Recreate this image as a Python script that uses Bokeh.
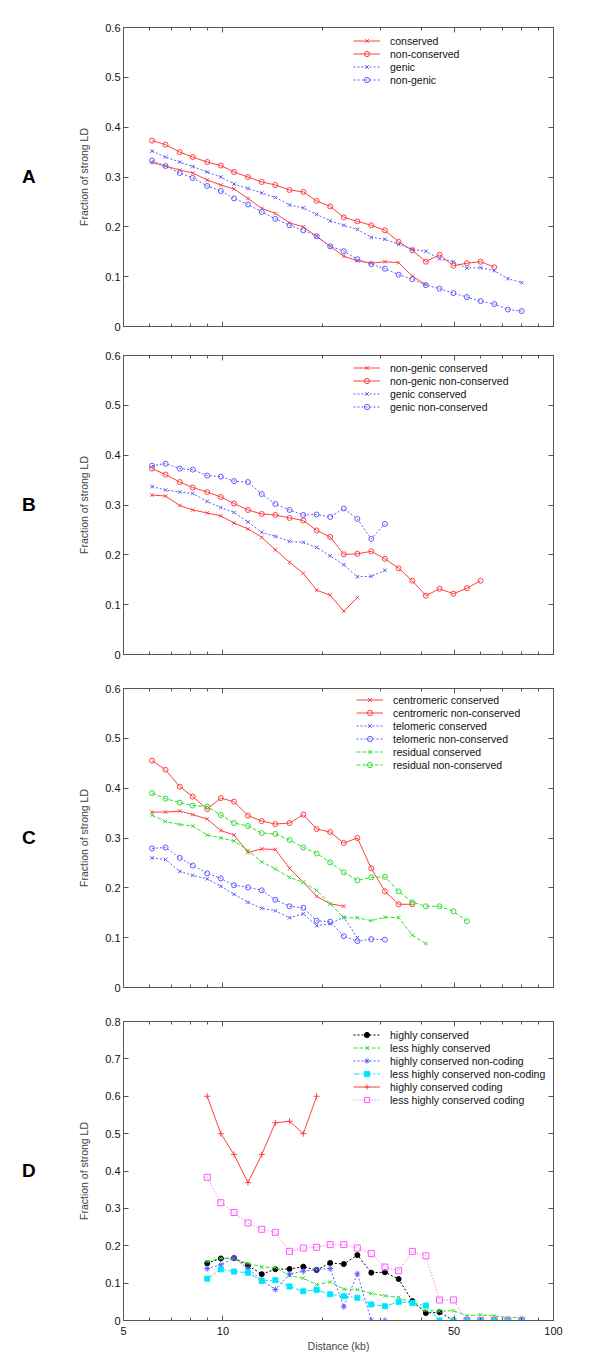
from bokeh.plotting import figure
from bokeh.layouts import column, row
from bokeh.models import (LinearAxis, LogAxis, FixedTicker, Legend, LegendItem, Range1d, Div)
from bokeh.embed import file_html
from bokeh.resources import INLINE

# distance bins (kb)
DIST = [6.1, 6.7, 7.4, 8.1, 8.96, 9.85, 10.8, 11.9, 13.1, 14.4, 15.9, 17.5, 19.2, 21.1,
        23.2, 25.5, 28.1, 30.9, 34.0, 37.4, 41.1, 45.2, 49.8, 54.7, 60.2, 66.2, 72.8, 80.1]
DIST_D = DIST[4:]

# Panel A
a_conserved = [0.329, 0.322, 0.314, 0.308, 0.294, 0.284, 0.276, 0.257, 0.237, 0.227, 0.208,
               0.200, 0.181, 0.161, 0.141, 0.132, 0.127, 0.130, 0.128, 0.101, 0.084]
a_nonconserved = [0.373, 0.365, 0.350, 0.340, 0.330, 0.323, 0.310, 0.300, 0.290, 0.284, 0.274,
                  0.270, 0.252, 0.241, 0.219, 0.211, 0.203, 0.193, 0.170, 0.153, 0.130, 0.144,
                  0.122, 0.127, 0.130, 0.119]
a_genic = [0.352, 0.340, 0.330, 0.321, 0.310, 0.300, 0.286, 0.277, 0.268, 0.259, 0.244, 0.238,
           0.225, 0.212, 0.203, 0.195, 0.179, 0.175, 0.165, 0.155, 0.151, 0.136, 0.130, 0.117,
           0.118, 0.112, 0.096, 0.088]
a_nongenic = [0.333, 0.322, 0.308, 0.298, 0.282, 0.272, 0.257, 0.245, 0.230, 0.216, 0.203, 0.193,
              0.181, 0.161, 0.151, 0.135, 0.125, 0.116, 0.104, 0.095, 0.083, 0.076, 0.067, 0.059,
              0.051, 0.045, 0.034, 0.031]

# Panel B
b_ng_cons = [0.320, 0.318, 0.299, 0.290, 0.284, 0.278, 0.264, 0.252, 0.235, 0.210, 0.185, 0.163,
             0.129, 0.119, 0.087, 0.114]
b_ng_noncons = [0.373, 0.361, 0.346, 0.335, 0.326, 0.316, 0.303, 0.290, 0.282, 0.280, 0.274, 0.269,
                0.249, 0.236, 0.201, 0.202, 0.207, 0.192, 0.173, 0.148, 0.118, 0.132, 0.122,
                0.133, 0.148]
b_g_cons = [0.337, 0.330, 0.326, 0.323, 0.307, 0.295, 0.285, 0.266, 0.245, 0.237, 0.227, 0.225,
            0.215, 0.198, 0.180, 0.156, 0.157, 0.169]
b_g_noncons = [0.379, 0.383, 0.373, 0.371, 0.359, 0.357, 0.348, 0.346, 0.322, 0.302, 0.290, 0.280,
               0.281, 0.276, 0.293, 0.272, 0.232, 0.262]

# Panel C
c_cen_cons = [0.352, 0.352, 0.354, 0.347, 0.338, 0.315, 0.306, 0.271, 0.278, 0.277, 0.239, 0.211,
              0.183, 0.168, 0.163]
c_cen_noncons = [0.455, 0.437, 0.403, 0.383, 0.358, 0.380, 0.373, 0.345, 0.334, 0.328, 0.330,
                 0.347, 0.318, 0.312, 0.290, 0.300, 0.239, 0.193, 0.167, 0.167]
c_tel_cons = [0.260, 0.257, 0.233, 0.225, 0.218, 0.203, 0.187, 0.171, 0.159, 0.154, 0.140, 0.148,
              0.124, 0.128, 0.141, 0.100]
c_tel_noncons = [0.279, 0.281, 0.260, 0.245, 0.229, 0.219, 0.205, 0.201, 0.195, 0.176, 0.163,
                 0.160, 0.134, 0.132, 0.103, 0.093, 0.097, 0.096]
c_res_cons = [0.346, 0.333, 0.327, 0.324, 0.306, 0.300, 0.294, 0.275, 0.252, 0.238, 0.221, 0.211,
              0.195, 0.168, 0.140, 0.140, 0.134, 0.141, 0.140, 0.105, 0.088]
c_res_noncons = [0.390, 0.379, 0.371, 0.365, 0.363, 0.346, 0.330, 0.324, 0.310, 0.308, 0.296,
                 0.281, 0.269, 0.251, 0.231, 0.215, 0.221, 0.222, 0.193, 0.171, 0.163, 0.163,
                 0.153, 0.133]

# Panel D
d_hc = [0.153, 0.166, 0.167, 0.147, 0.124, 0.137, 0.138, 0.144, 0.135, 0.154, 0.151, 0.175,
        0.128, 0.129, 0.111, 0.052, 0.020, 0.022, 0.0, 0.0, 0.0, 0.0, 0.0, 0.0]
d_lhc = [0.158, 0.166, 0.166, 0.153, 0.143, 0.142, 0.120, 0.113, 0.096, 0.103, 0.084, 0.083,
         0.072, 0.066, 0.062, 0.045, 0.027, 0.025, 0.026, 0.013, 0.015, 0.012, 0.008, 0.008]
d_hc_nc = [0.139, 0.149, 0.167, 0.139, 0.108, 0.083, 0.124, 0.132, 0.136, 0.139, 0.037, 0.125,
           0.0, 0.0]
d_lhc_nc = [0.112, 0.137, 0.131, 0.128, 0.106, 0.108, 0.091, 0.078, 0.082, 0.070, 0.065, 0.061,
            0.043, 0.038, 0.050, 0.047, 0.040, 0.0, 0.0, 0.0, 0.0, 0.0, 0.0, 0.0]
d_hc_c = [0.600, 0.500, 0.444, 0.369, 0.444, 0.529, 0.533, 0.500, 0.600]
d_lhc_c = [0.383, 0.315, 0.289, 0.261, 0.244, 0.236, 0.185, 0.194, 0.196, 0.203, 0.203, 0.194,
           0.179, 0.143, 0.133, 0.185, 0.173, 0.055, 0.055, 0.0, 0.0, 0.0, 0.0, 0.0]

Y_TICKS_06 = [0, 0.1, 0.2, 0.3, 0.4, 0.5, 0.6]
Y_LABELS_06 = ["0", "0.1", "0.2", "0.3", "0.4", "0.5", "0.6"]
Y_TICKS_08 = [0, 0.1, 0.2, 0.3, 0.4, 0.5, 0.6, 0.7, 0.8]
Y_LABELS_08 = ["0", "0.1", "0.2", "0.3", "0.4", "0.5", "0.6", "0.7", "0.8"]
X_TICKS = [5, 10, 50, 100]
X_LABELS = ["5", "10", "50", "100"]
X_MINOR = [6, 7, 8, 9, 20, 30, 40, 60, 70, 80, 90]
PANEL_LETTERS = ["A", "B", "C", "D"]

FONT = "Liberation Sans"
FS = "10.5px"
RED = "#ff4040"
BLUE = "#5c5cff"
GREEN = "#33dd33"
CYAN = "#00e5ff"
MAG = "#ff55ff"
BLACK = "#000000"
AXC = "#555555"
DIV_W = 60


def style_axis(ax, labels=True):
    ax.axis_line_color = AXC
    ax.major_tick_line_color = AXC
    ax.minor_tick_line_color = AXC
    ax.major_tick_in = 5
    ax.major_tick_out = 0
    ax.minor_tick_in = 3
    ax.minor_tick_out = 0
    ax.major_label_text_font = FONT
    if labels:
        ax.major_label_text_font_size = "11px"
        ax.major_label_text_color = "#111111"
        ax.major_label_standoff = 3
    else:
        ax.major_label_text_font_size = "0px"
        ax.major_label_text_color = None
        ax.major_label_standoff = 0


def make_panel(letter, ymax, yticks, ylabels, height, top, bottom, xlabels=False):
    p = figure(width=584 + 8 - DIV_W, height=height, x_axis_type="log", output_backend="svg",
               toolbar_location=None, x_range=Range1d(5, 100), y_range=Range1d(0, ymax),
               min_border_left=123 - DIV_W, min_border_right=39, min_border_top=top,
               min_border_bottom=bottom, margin=0)
    p.grid.visible = False
    p.outline_line_color = AXC
    p.yaxis.ticker = FixedTicker(ticks=yticks)
    p.yaxis.major_label_overrides = {t: l for t, l in zip(yticks, ylabels)}
    p.yaxis.minor_tick_line_color = None
    style_axis(p.yaxis[0])
    p.yaxis.axis_label = "Fraction of strong LD"
    p.yaxis.axis_label_text_font = FONT
    p.yaxis.axis_label_text_font_size = FS
    p.yaxis.axis_label_text_font_style = "normal"
    p.yaxis.axis_label_standoff = 12
    p.xaxis.ticker = FixedTicker(ticks=X_TICKS, minor_ticks=X_MINOR)
    style_axis(p.xaxis[0], labels=xlabels)
    if xlabels:
        p.xaxis.major_label_overrides = {t: l for t, l in zip(X_TICKS, X_LABELS)}
        p.xaxis.major_label_standoff = 6
        p.xaxis.axis_label = "Distance (kb)"
        p.xaxis.axis_label_text_font = FONT
        p.xaxis.axis_label_text_font_size = FS
        p.xaxis.axis_label_text_font_style = "normal"
        p.xaxis.axis_label_standoff = 2
    ra = LinearAxis(ticker=FixedTicker(ticks=yticks))
    style_axis(ra, labels=False)
    ra.minor_tick_line_color = None
    p.add_layout(ra, "right")
    ta = LogAxis(ticker=FixedTicker(ticks=X_TICKS, minor_ticks=X_MINOR))
    style_axis(ta, labels=False)
    p.add_layout(ta, "above")
    # panel letter, vertically centred on the frame
    frame_mid = top + 299 / 2
    d = Div(text=letter, width=DIV_W, height=height, margin=0,
            styles={"font-family": FONT, "font-size": "19px", "font-weight": "bold",
                    "padding-left": "22px", "padding-top": f"{frame_mid - 11:.0f}px",
                    "box-sizing": "border-box", "color": "#000000", "line-height": "22px"})
    return p, d


def series(p, xs, ys, color, dash, marker, msize, filled, label, items):
    x = xs[:len(ys)]
    l = p.line(x, ys, line_color=color, line_width=1, line_dash=dash)
    s = p.scatter(x, ys, marker=marker, size=msize, line_color=color, line_width=1,
                  fill_color=color if filled else None)
    items.append(LegendItem(label=label, renderers=[l, s]))


def add_legend(p, items, x, y):
    lg = Legend(items=items, location=(x, y), border_line_alpha=0, background_fill_alpha=0,
                padding=0, margin=0, spacing=0, glyph_width=27, glyph_height=13,
                label_height=13, label_standoff=10, label_text_font=FONT,
                label_text_font_size=FS, label_text_color="#111111")
    p.add_layout(lg, "center")


# ---- Panel A
pa, da = make_panel(PANEL_LETTERS[0], 0.6, Y_TICKS_06, Y_LABELS_06, 336, 27, 10)
it = []
series(pa, DIST, a_conserved, RED, "solid", "x", 5, False, "conserved", it)
series(pa, DIST, a_nonconserved, RED, "solid", "circle", 5, False, "non-conserved", it)
series(pa, DIST, a_genic, BLUE, "2 2", "x", 5, False, "genic", it)
series(pa, DIST, a_nongenic, BLUE, "2 2", "circle", 5, False, "non-genic", it)
add_legend(pa, it, 230, 240)

# ---- Panel B
pb, db = make_panel(PANEL_LETTERS[1], 0.6, Y_TICKS_06, Y_LABELS_06, 333, 19, 15)
it = []
series(pb, DIST, b_ng_cons, RED, "solid", "x", 5, False, "non-genic conserved", it)
series(pb, DIST, b_ng_noncons, RED, "solid", "circle", 5, False, "non-genic non-conserved", it)
series(pb, DIST, b_g_cons, BLUE, "2 2", "x", 5, False, "genic conserved", it)
series(pb, DIST, b_g_noncons, BLUE, "2 2", "circle", 5, False, "genic non-conserved", it)
add_legend(pb, it, 230, 241)

# ---- Panel C
pc, dc = make_panel(PANEL_LETTERS[2], 0.6, Y_TICKS_06, Y_LABELS_06, 333, 19, 15)
it = []
series(pc, DIST, c_cen_cons, RED, "solid", "x", 5, False, "centromeric conserved", it)
series(pc, DIST, c_cen_noncons, RED, "solid", "circle", 5, False, "centromeric non-conserved", it)
series(pc, DIST, c_tel_cons, BLUE, "2 2", "x", 5, False, "telomeric conserved", it)
series(pc, DIST, c_tel_noncons, BLUE, "2 2", "circle", 5, False, "telomeric non-conserved", it)
series(pc, DIST, c_res_cons, GREEN, "4 2", "x", 5, False, "residual conserved", it)
series(pc, DIST, c_res_noncons, GREEN, "4 2", "circle", 5, False, "residual non-conserved", it)
add_legend(pc, it, 233, 216)

# ---- Panel D
pd_, dd = make_panel(PANEL_LETTERS[3], 0.8, Y_TICKS_08, Y_LABELS_08, 358, 19, 40, xlabels=True)
it = []
series(pd_, DIST_D, d_hc, BLACK, "2 2", "circle", 5, True, "highly conserved", it)
series(pd_, DIST_D, d_lhc, GREEN, "4 2", "x", 5, False, "less highly conserved", it)
series(pd_, DIST_D, d_hc_nc, BLUE, "2 2", "asterisk", 6, False, "highly conserved non-coding", it)
series(pd_, DIST_D, d_lhc_nc, CYAN, "6 2 2 2", "square", 5, True, "less highly conserved non-coding", it)
series(pd_, DIST_D, d_hc_c, RED, "solid", "cross", 6, False, "highly conserved coding", it)
series(pd_, DIST_D, d_lhc_c, MAG, "1 2", "square", 6, False, "less highly conserved coding", it)
add_legend(pd_, it, 230, 214)

layout = column(row(da, pa, spacing=0, margin=0), row(db, pb, spacing=0, margin=0),
                row(dc, pc, spacing=0, margin=0), row(dd, pd_, spacing=0, margin=0),
                spacing=0, margin=0)
open("out.html", "w").write(file_html(layout, INLINE))
